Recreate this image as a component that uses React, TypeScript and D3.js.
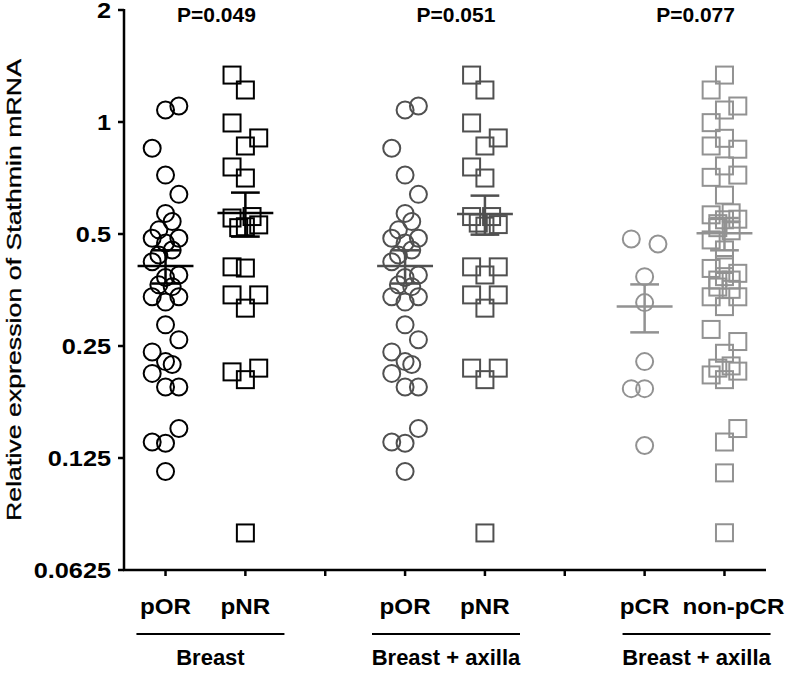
import React from "react";
import * as d3 from "d3";

const W = 792;
const H = 673;

// categories (x positions 0..7, with gaps at 2 and 5)
const categories = ["pOR", "pNR", "pOR", "pNR", "pCR", "non-pCR"];
const catPos = [0, 1, 3, 4, 6, 7];
const groupLabels = ["Breast", "Breast + axilla", "Breast + axilla"];
const pValues = ["P=0.049", "P=0.051", "P=0.077"];
const yTickValues = [0.0625, 0.125, 0.25, 0.5, 1, 2];
const yTickLabels = ["0.0625", "0.125", "0.25", "0.5", "1", "2"];

// series values (relative expression) and jitter slots
const pORBreast = [1.077, 1.104, 0.85, 0.72, 0.639, 0.568, 0.54, 0.513, 0.487, 0.487, 0.473, 0.453, 0.439, 0.421, 0.388, 0.382, 0.365, 0.361, 0.339, 0.328, 0.339, 0.285, 0.26, 0.241, 0.227, 0.223, 0.211, 0.194, 0.194, 0.15, 0.138, 0.137, 0.115];
const pORBreastSlot = [0, 2, -2, 0, 2, 0, 1, -1, -2, 2, 0, 1, -1, -2, 2, 0, -1, 1, -2, 0, 2, 0, 2, -2, 0, 1, -2, 0, 2, 2, -2, 0, 0];
const pNRBreast = [1.337, 1.219, 0.994, 0.906, 0.862, 0.757, 0.707, 0.552, 0.557, 0.529, 0.523, 0.52, 0.408, 0.405, 0.343, 0.343, 0.316, 0.213, 0.218, 0.203, 0.0786];
const pNRBreastSlot = [-2, 0, -2, 2, 0, -2, 0, -2, 1, 2, 0, -1, -2, 0, -2, 2, 0, -2, 2, 0, 0];
const pORAxilla = pORBreast.slice();
const pORAxillaSlot = pORBreastSlot.slice();
const pNRAxilla = [1.337, 1.219, 0.994, 0.906, 0.862, 0.757, 0.707, 0.557, 0.557, 0.535, 0.525, 0.53, 0.408, 0.408, 0.388, 0.343, 0.343, 0.316, 0.218, 0.218, 0.203, 0.0786];
const pNRAxillaSlot = [-2, 0, -2, 2, 0, -2, 0, -2, 1, -1, 0, 2, -2, 2, 0, -2, 2, 0, -2, 2, 0, 0];
const pCR = [0.485, 0.47, 0.384, 0.327, 0.227, 0.192, 0.192, 0.135];
const pCRSlot = [-2, 2, 0, 0, 0, -2, 0, 0];
const nonPCR = [1.337, 1.219, 1.104, 1.077, 0.996, 0.904, 0.862, 0.845, 0.762, 0.72, 0.71, 0.636, 0.563, 0.57, 0.548, 0.533, 0.546, 0.52, 0.51, 0.482, 0.453, 0.414, 0.404, 0.392, 0.384, 0.376, 0.376, 0.36, 0.355, 0.339, 0.339, 0.319, 0.277, 0.257, 0.239, 0.218, 0.221, 0.209, 0.214, 0.203, 0.15, 0.138, 0.114, 0.0787];
const nonPCRSlot = [0, -2, 2, 0, -2, 0, -2, 2, 0, 2, -2, 0, -2, 1, 2, -1, 0, -1, 1, -2, 0, 0, -2, 2, 0, -1, 1, -1, 1, -2, 2, 0, -2, 2, 0, -1, 1, -2, 2, 0, 2, 0, 0, 0];

const groupMeans = [0.41, 0.569, 0.41, 0.566, 0.319, 0.502];
const groupSems = [0.042, 0.077, 0.042, 0.068, 0.047, 0.05];

const seriesValues = [pORBreast, pNRBreast, pORAxilla, pNRAxilla, pCR, nonPCR];
const seriesSlots = [pORBreastSlot, pNRBreastSlot, pORAxillaSlot, pNRAxillaSlot, pCRSlot, nonPCRSlot];
const shapes = ["circle", "square", "circle", "square", "circle", "square"];
const colors = ["#000000", "#000000", "#505050", "#505050", "#929292", "#929292"];

const FONT = "Arial, 'Liberation Sans', sans-serif";

export default function App() {
  const x = d3.scaleLinear().domain([-0.52, 7.52]).range([124, 766]);
  const y = d3.scaleLog().base(2).domain([0.0625, 2]).range([570, 10]);
  const slotW = 0.0835;
  const r = 8.5;
  const sq = 17;
  const groupShift = [5, 1, 12];

  return (
    <svg width={W} height={H} style={{ position: "absolute", left: 0, top: 0, background: "#fff" }}>
      <rect x={0} y={0} width={W} height={H} fill="#fff" />
      {/* axes */}
      <line x1={x(-0.52)} x2={x(-0.52)} y1={y(2) - 1} y2={y(0.0625)} stroke="#000" strokeWidth={2.5} />
      <line x1={x(-0.52) - 1} x2={x(7.52)} y1={y(0.0625)} y2={y(0.0625)} stroke="#000" strokeWidth={2.5} />
      {yTickValues.map((v, i) => (
        <g key={"yt" + i}>
          <line x1={x(-0.52) - 6} x2={x(-0.52)} y1={y(v)} y2={y(v)} stroke="#000" strokeWidth={2.5} />
          <text
            transform={`translate(${x(-0.52) - 13},${y(v) + 8}) scale(1.15,1)`}
            textAnchor="end"
            fontFamily={FONT}
            fontWeight="bold"
            fontSize={22}
          >
            {yTickLabels[i]}
          </text>
        </g>
      ))}
      {d3.range(8).map((t) => (
        <line key={"xt" + t} x1={x(t)} x2={x(t)} y1={y(0.0625)} y2={y(0.0625) + 6} stroke="#000" strokeWidth={2.5} />
      ))}
      <text
        transform={`translate(21,290) rotate(-90)`}
        textAnchor="middle"
        fontFamily={FONT}
        fontSize={21}
        textLength={462}
        lengthAdjust="spacingAndGlyphs"
        stroke="#000"
        strokeWidth={0.3}
      >
        Relative expression of Stathmin mRNA
      </text>

      {/* points */}
      {seriesValues.map((vals, gi) =>
        vals.map((v, j) => {
          const cx = x(catPos[gi] + seriesSlots[gi][j] * slotW);
          const cy = y(v);
          return shapes[gi] === "circle" ? (
            <circle key={gi + "-" + j} cx={cx} cy={cy} r={r} fill="none" stroke={colors[gi]} strokeWidth={2} />
          ) : (
            <rect key={gi + "-" + j} x={cx - sq / 2} y={cy - sq / 2} width={sq} height={sq} fill="none" stroke={colors[gi]} strokeWidth={2} />
          );
        })
      )}

      {/* mean and SEM */}
      {groupMeans.map((m, gi) => {
        const c = catPos[gi];
        const s = groupSems[gi];
        return (
          <g key={"m" + gi} stroke={colors[gi]} strokeWidth={2.5}>
            <line x1={x(c - 0.35)} x2={x(c + 0.35)} y1={y(m)} y2={y(m)} />
            <line x1={x(c)} x2={x(c)} y1={y(m + s)} y2={y(m - s)} />
            <line x1={x(c - 0.18)} x2={x(c + 0.18)} y1={y(m + s)} y2={y(m + s)} />
            <line x1={x(c - 0.18)} x2={x(c + 0.18)} y1={y(m - s)} y2={y(m - s)} />
          </g>
        );
      })}

      {/* P values */}
      {pValues.map((p, i) => (
        <text key={"p" + i} x={x(i * 3 + 0.5) + 11} y={22} textAnchor="middle" fontFamily={FONT} fontWeight="bold" fontSize={21}>
          {p}
        </text>
      ))}

      {/* category labels */}
      {categories.map((c, i) => (
        <text
          key={"c" + i}
          transform={`translate(${x(catPos[i]) + (c === "non-pCR" ? 9 : 0)},614) scale(1.1,1)`}
          textAnchor="middle"
          fontFamily={FONT}
          fontWeight="bold"
          fontSize={22}
        >
          {c}
        </text>
      ))}
      {groupLabels.map((g, i) => {
        const mid = x(i * 3 + 0.5) + groupShift[i];
        return (
          <g key={"g" + i}>
            <line x1={mid - 74} x2={mid + 74} y1={634} y2={634} stroke="#000" strokeWidth={2} />
            <text x={mid} y={665} textAnchor="middle" fontFamily={FONT} fontWeight="bold" fontSize={22}>
              {g}
            </text>
          </g>
        );
      })}
    </svg>
  );
}
